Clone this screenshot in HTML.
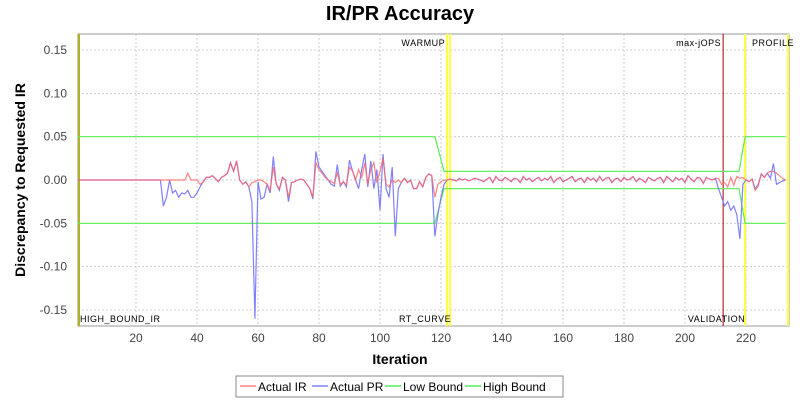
<!DOCTYPE html>
<html><head><meta charset="utf-8"><style>
body{margin:0;background:#fff;font-family:"Liberation Sans",sans-serif}
svg text{font-family:"Liberation Sans",sans-serif}
</style></head><body>
<svg id="c" width="800" height="400" xmlns="http://www.w3.org/2000/svg">
<rect width="800" height="400" fill="#ffffff"/>
<text x="400" y="20" text-anchor="middle" font-size="20" font-weight="bold">IR/PR Accuracy</text>
<rect x="78" y="34" width="711" height="292" fill="#fff" stroke="#999"/>
<g id="grid"></g><g id="marks"></g><g id="series"></g><g id="axes"></g>
<text x="400" y="364" text-anchor="middle" font-size="14" font-weight="bold">Iteration</text>
<text transform="translate(25,180) rotate(-90)" text-anchor="middle" font-size="14" font-weight="bold">Discrepancy to Requested IR</text>
<g>
<rect x="236" y="376" width="327" height="21" fill="#fff" stroke="#888"/>
<line x1="240" y1="386" x2="256" y2="386" stroke="#ff8080" stroke-width="1.5"/><text x="258" y="391" font-size="12">Actual IR</text>
<line x1="312" y1="386" x2="328" y2="386" stroke="#8080ff" stroke-width="1.5"/><text x="330" y="391" font-size="12">Actual PR</text>
<line x1="385" y1="386" x2="401" y2="386" stroke="#55ee55" stroke-width="1.5"/><text x="403" y="391" font-size="12">Low Bound</text>
<line x1="465" y1="386" x2="481" y2="386" stroke="#55ee55" stroke-width="1.5"/><text x="483" y="391" font-size="12">High Bound</text>
</g>
</svg>
<script>
const xTicks=[20,40,60,80,100,120,140,160,180,200,220];
const yTicks=[0.15,0.10,0.05,0.00,-0.05,-0.10,-0.15];
const yTickLabels=["0.15","0.10","0.05","0.00","-0.05","-0.10","-0.15"];
const seriesStart=28;
const prEarly=[0,-0.03,-0.02,0,-0.015,-0.012,-0.02,-0.015,-0.016,-0.012,
-0.02,-0.02,-0.015,-0.008,-0.002,0.003,0.003,0.005,0.002,-0.002,
0.003,0.005,0.008,0.02,0.01,0.022,0,-0.005,-0.002,-0.008,
-0.025,-0.16,-0.002,-0.022,-0.02,-0.005,-0.015,0.027,-0.005,-0.012,
0.003,0,-0.025,-0.003,-0.002,0,0.001,0,-0.005,-0.01,
-0.022,0.033,0.015,0.01,0.005,0,-0.005,-0.007,0.018,-0.007,
-0.002,-0.008,0.023,0.01,0,-0.01,0.012,0.03,-0.008,0.022,
-0.01,0.012,-0.035,0.03,-0.01,-0.02,0.015,-0.065,-0.01,-0.003,
0.002,-0.003,0,-0.01,-0.01,-0.002,-0.008,0.003,0.007,0.005,
-0.065,-0.04,-0.02,-0.005,0];
const irEarly=[0,0,0,0,0,0,0,0,0,0.008,
0,0,0,-0.005,-0.003,0.003,0.003,0.005,0.002,-0.002,
0.003,0.005,0.008,0.02,0.01,0.022,0,-0.005,-0.002,-0.008,
-0.003,-0.002,0,0,-0.002,-0.005,-0.012,0.015,-0.005,-0.01,
0.003,0,-0.02,-0.003,-0.002,0,0.001,0,-0.005,-0.01,
-0.02,0.02,0.012,0.008,0.003,0,-0.002,-0.004,0.008,-0.005,
-0.002,-0.006,0.015,0.01,0,0.012,0.003,0.02,-0.005,0.012,
0.02,-0.003,0.01,0.025,-0.005,-0.008,0,-0.003,0,-0.003,
0.002,-0.003,0,-0.01,-0.01,-0.002,-0.008,0.003,0.007,0.005,
-0.02,-0.005,-0.002,0,0];
const mid=[0.001,0,-0.001,0.002,0,0.001,-0.001,0,0.002,0.001,
0,-0.002,0.001,0.003,-0.003,0.004,0,-0.001,0.003,0.001,
-0.002,0.002,0.001,-0.003,0.004,0,0.002,-0.002,0.001,0.003,
-0.001,0.002,0,0.004,-0.003,0.001,0.003,-0.002,0,0.002,
0.004,-0.002,0.001,0.002,-0.003,0.003,0,0.002,-0.002,0.004,
-0.001,0.002,0.003,-0.003,0.001,0.002,-0.002,0.003,0,0.001,
0.004,-0.002,0.002,0,-0.003,0.003,0.001,-0.001,0.002,0.003,
-0.003,0.004,0.001,-0.002,0.003,0,0.002,-0.003,0.005,0.001,
-0.002,0.003,0.002,-0.004,0.003,0.001,0,0.002];
const prLate=[-0.01,-0.02,-0.03,-0.025,-0.035,-0.03,-0.04,-0.068,-0.005,
0,-0.002,0.001,-0.01,-0.005,0.007,0.003,0.008,0.002,0.019,-0.005,-0.003,-0.001,0];
const irLate=[0.002,-0.005,-0.003,-0.008,0.003,-0.006,0.004,0.002,0.003,
0,-0.002,0.001,-0.012,-0.007,0.007,0.003,0.008,0.01,0.01,0.008,0.005,0.002,0];
const prVals=[...prEarly,...mid,...prLate];
const irVals=[...irEarly,...mid,...irLate];
const boundIter=[1,118,121,217.7,219.7,233];
const highVals=[0.05,0.05,0.01,0.01,0.05,0.05];
const lowVals=[-0.05,-0.05,-0.01,-0.01,-0.05,-0.05];
const markerIters=[122,123,219.7];
const maxJopsIter=212.5;

const NS="http://www.w3.org/2000/svg";
const X=v=>75+v*3.05, Y=v=>180-v*866.7;
function mk(t,a,p){const e=document.createElementNS(NS,t);for(const k in a)e.setAttribute(k,a[k]);p.appendChild(e);return e;}
const grid=document.getElementById('grid'),axes=document.getElementById('axes'),marks=document.getElementById('marks'),ser=document.getElementById('series');
xTicks.forEach(t=>{
 const g=mk('line',{x1:X(t),x2:X(t),y1:34,y2:326,stroke:'#ccc','stroke-dasharray':'2,2'},grid);
 
 
 const l=mk('text',{x:X(t),y:342,'text-anchor':'middle','font-size':12,fill:'#444'},axes);l.textContent=t;
 
 
});
yTicks.forEach((t,i)=>{
 const g=mk('line',{x1:78,x2:789,y1:Y(t),y2:Y(t),stroke:'#ccc','stroke-dasharray':'2,2'},grid);
 
 
 const l=mk('text',{x:67,y:Y(t)+4,'text-anchor':'end','font-size':12,fill:'#444'},axes);l.textContent=yTickLabels[i];
 
 
});
const lm=mk('line',{x1:79,x2:79,y1:34,y2:326,stroke:'#b0b020','stroke-width':2},marks);


markerIters.forEach(m=>{
 const e=mk('line',{x1:X(m),x2:X(m),y1:34,y2:326,stroke:'#ffff40','stroke-width':2},marks);
 
 
});
const rm=mk('line',{x1:788,x2:788,y1:34,y2:326,stroke:'#ffff40','stroke-width':2},marks);


const mj=mk('line',{x1:X(maxJopsIter),x2:X(maxJopsIter),y1:34,y2:326,stroke:'#aa0000','stroke-width':1},marks);


[["WARMUP",X(122)-2,46,'end'],["RT_CURVE",X(123)+1,322,'end'],["max-jOPS",X(maxJopsIter)-2,46,'end'],["PROFILE",752,46,'start'],["VALIDATION",X(219.7),322,'end'],["HIGH_BOUND_IR",80,322,'start']].forEach(a=>{
 const t=mk('text',{x:a[1],y:a[2],'text-anchor':a[3],'font-size':9,'letter-spacing':'0.5'},marks);t.textContent=a[0];
 
 
});
function path(xs,ys,col,name){
 const d=xs.map((x,i)=>(i?'L':'M')+X(x).toFixed(1)+' '+Y(ys[i]).toFixed(1)).join(' ');
 const p=mk('path',{d:d,fill:'none',stroke:col,'stroke-width':1.2},ser);
 
 
}
path(boundIter,highVals,'#55ee55','high-bound-line');
path(boundIter,lowVals,'#55ee55','low-bound-line');
const it=[1,...prVals.map((_,i)=>seriesStart+i)];
path(it,[0,...prVals],'#8080ff','actual-pr-line');
path([1,...irVals.map((_,i)=>seriesStart+i)],[0,...irVals],'rgba(255,100,100,0.8)','actual-ir-line');
</script>
</body></html>
